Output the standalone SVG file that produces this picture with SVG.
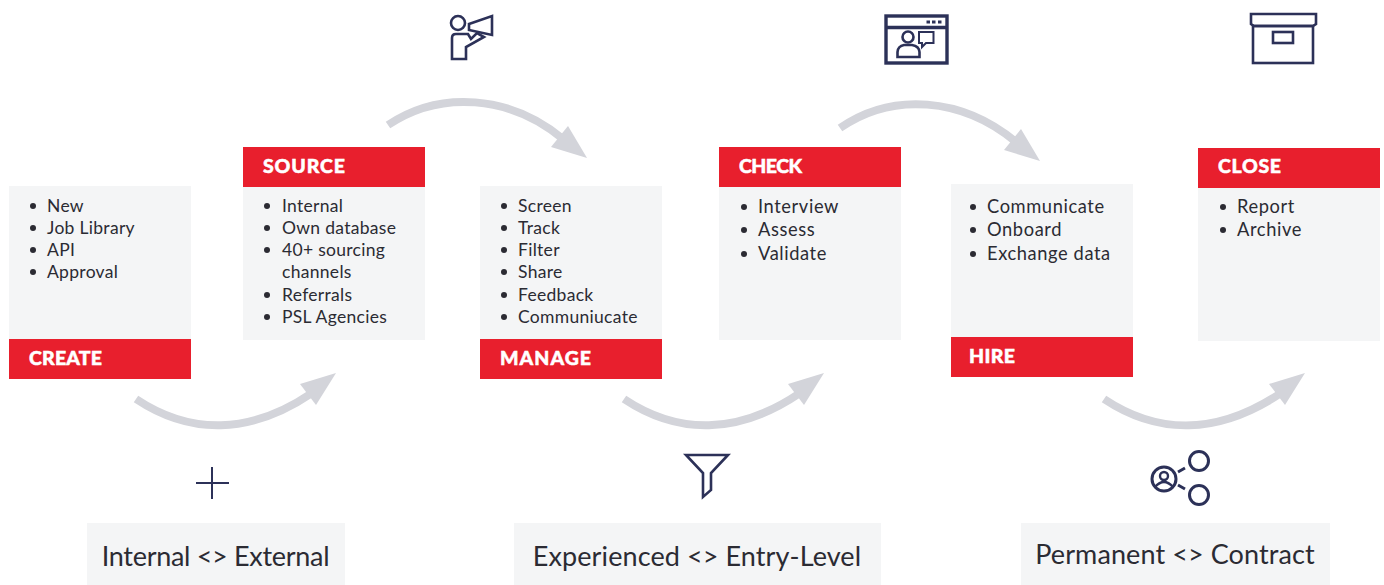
<svg xmlns="http://www.w3.org/2000/svg" width="1384" height="585" viewBox="0 0 1384 585">
<style>
text{font-family:"Lato","Liberation Sans",sans-serif;fill:#2b2b33}
.card{fill:#f4f5f6}
.bar{fill:#e81f2d}
.h{font-size:19.5px;font-weight:900;fill:#fff;stroke:#fff;stroke-width:.5px}
.b{font-size:17.5px;letter-spacing:.3px}
.c{font-size:18.300px;letter-spacing:.6px}
.lab{font-size:27px;text-anchor:middle;letter-spacing:.1px}
.dot{fill:#2b2b33}
.arc{fill:none;stroke:#d3d4da;stroke-width:8}
.head{fill:#d3d4da}
.ic{fill:none;stroke:#2c3158;stroke-width:2.6}
</style>
<rect width="1384" height="585" fill="#fff"/>
<g id="connectors">
<g id="arrow-create-source"><path class="arc" d="M136 399C190 435 250 435 312 393"/><path class="head" d="M336 373L300 384L316 405Z"/></g>
<g id="arrow-source-manage"><path class="arc" d="M388 125C440 90 510 95 563 139"/><path class="head" d="M587 158L551 147L568 126Z"/></g>
<g id="arrow-manage-check"><path class="arc" d="M624 399C678 435 738 435 800 393"/><path class="head" d="M824 373L788 384L804 405Z"/></g>
<g id="arrow-check-hire"><path class="arc" d="M840 128C892 92 962 97 1016 142"/><path class="head" d="M1040 161L1004 150L1021 129Z"/></g>
<g id="arrow-hire-close"><path class="arc" d="M1104 399C1158 435 1218 435 1281 393"/><path class="head" d="M1305 373L1269 384L1285 405Z"/></g>
</g>
<g id="node-create">
<rect class="card" x="9" y="186" width="182" height="153"/><rect class="bar" x="9" y="339" width="182" height="40"/>
<text class="h" x="29" y="365" textLength="73">CREATE</text>
<circle class="dot" cx="33" cy="206" r="3"/><text class="b" x="47" y="212">New</text>
<circle class="dot" cx="33" cy="228" r="3"/><text class="b" x="47" y="234">Job Library</text>
<circle class="dot" cx="33" cy="250" r="3"/><text class="b" x="47" y="256">API</text>
<circle class="dot" cx="33" cy="272" r="3"/><text class="b" x="47" y="278">Approval</text>
</g>
<g id="node-source">
<rect class="bar" x="243" y="147" width="182" height="40"/><rect class="card" x="243" y="187" width="182" height="153"/>
<text class="h" x="263" y="173" textLength="82">SOURCE</text>
<circle class="dot" cx="267" cy="206" r="3"/><text class="b" x="282" y="212">Internal</text>
<circle class="dot" cx="267" cy="228" r="3"/><text class="b" x="282" y="234">Own database</text>
<circle class="dot" cx="267" cy="250" r="3"/><text class="b" x="282" y="256">40+ sourcing</text>
<text class="b" x="282" y="278">channels</text>
<circle class="dot" cx="267" cy="295" r="3"/><text class="b" x="282" y="301">Referrals</text>
<circle class="dot" cx="267" cy="317" r="3"/><text class="b" x="282" y="323">PSL Agencies</text>
</g>
<g id="node-manage">
<rect class="card" x="480" y="186" width="182" height="153"/><rect class="bar" x="480" y="339" width="182" height="40"/>
<text class="h" x="500" y="365" textLength="91">MANAGE</text>
<circle class="dot" cx="504" cy="206" r="3"/><text class="b" x="518" y="212">Screen</text>
<circle class="dot" cx="504" cy="228" r="3"/><text class="b" x="518" y="234">Track</text>
<circle class="dot" cx="504" cy="250" r="3"/><text class="b" x="518" y="256">Filter</text>
<circle class="dot" cx="504" cy="272" r="3"/><text class="b" x="518" y="278">Share</text>
<circle class="dot" cx="504" cy="295" r="3"/><text class="b" x="518" y="301">Feedback</text>
<circle class="dot" cx="504" cy="317" r="3"/><text class="b" x="518" y="323">Communiucate</text>
</g>
<g id="node-check">
<rect class="bar" x="719" y="147" width="182" height="40"/><rect class="card" x="719" y="187" width="182" height="153"/>
<text class="h" x="739" y="173" textLength="63">CHECK</text>
<circle class="dot" cx="744" cy="207" r="3"/><text class="c" x="758" y="213">Interview</text>
<circle class="dot" cx="744" cy="230" r="3"/><text class="c" x="758" y="236">Assess</text>
<circle class="dot" cx="744" cy="254" r="3"/><text class="c" x="758" y="260">Validate</text>
</g>
<g id="node-hire">
<rect class="card" x="951" y="184" width="182" height="153"/><rect class="bar" x="951" y="337" width="182" height="40"/>
<text class="h" x="969" y="363" textLength="46">HIRE</text>
<circle class="dot" cx="973" cy="207" r="3"/><text class="c" x="987" y="213">Communicate</text>
<circle class="dot" cx="973" cy="230" r="3"/><text class="c" x="987" y="236">Onboard</text>
<circle class="dot" cx="973" cy="254" r="3"/><text class="c" x="987" y="260">Exchange data</text>
</g>
<g id="node-close">
<rect class="bar" x="1198" y="148" width="182" height="40"/><rect class="card" x="1198" y="188" width="182" height="153"/>
<text class="h" x="1218" y="173" textLength="63">CLOSE</text>
<circle class="dot" cx="1223" cy="207" r="3"/><text class="c" x="1237" y="213">Report</text>
<circle class="dot" cx="1223" cy="230" r="3"/><text class="c" x="1237" y="236">Archive</text>
</g>
<g id="icon-megaphone" class="ic">
<circle cx="458" cy="23" r="7"/>
<path d="M452 59V38Q452 34 456 34H468L471 39L477 33L484 37L466 47V59Z"/>
<path d="M469 24L492 16V35L469 30Z"/>
</g>
<g id="icon-window" class="ic">
<rect x="886" y="16" width="61" height="47" stroke-width="3.400"/><path d="M886 27.500H947" stroke-width="3.400"/>
<path d="M926.500 22H930M932 22H935.500M938 22H941.500" stroke-width="3"/>
<circle cx="908" cy="37" r="5.500"/><path d="M897.500 57V52Q898 46 904 45H912Q919 46 919.500 52V57Z"/>
<path d="M919 32H933.500V43H926L922 47V43H919Z" stroke-width="2"/>
</g>
<g id="icon-box" class="ic">
<path d="M1251 14H1316V24L1313 26H1254L1251 24Z"/><rect x="1253" y="26" width="60" height="37"/><rect x="1273" y="32" width="20" height="11"/>
</g>
<g id="icon-plus" class="ic" style="stroke-width:2"><path d="M212 467V499M196 483H229"/></g>
<g id="icon-funnel" class="ic"><path d="M686 455H728L711 473V490L703 497V473Z"/></g>
<g id="icon-share" class="ic" style="stroke-width:3">
<circle cx="1164" cy="479" r="12"/><circle cx="1164" cy="476" r="4" stroke-width="2.400"/><path d="M1155 487Q1164 477 1173 487" stroke-width="2.400"/>
<circle cx="1199" cy="461" r="9.500"/><circle cx="1199" cy="495" r="9.500"/>
<path d="M1178 472L1185 468M1178 485L1185 489"/>
</g>
<g id="label-internal"><rect class="card" x="87" y="523" width="258" height="62"/><text class="lab" x="215.500" y="566" style="letter-spacing:-.3px">Internal &lt;&gt; External</text></g>
<g id="label-experienced"><rect class="card" x="514" y="523" width="367" height="62"/><text class="lab" x="697" y="566">Experienced &lt;&gt; Entry-Level</text></g>
<g id="label-permanent"><rect class="card" x="1021" y="523" width="309" height="62"/><text class="lab" x="1175" y="564">Permanent &lt;&gt; Contract</text></g>
</svg>
